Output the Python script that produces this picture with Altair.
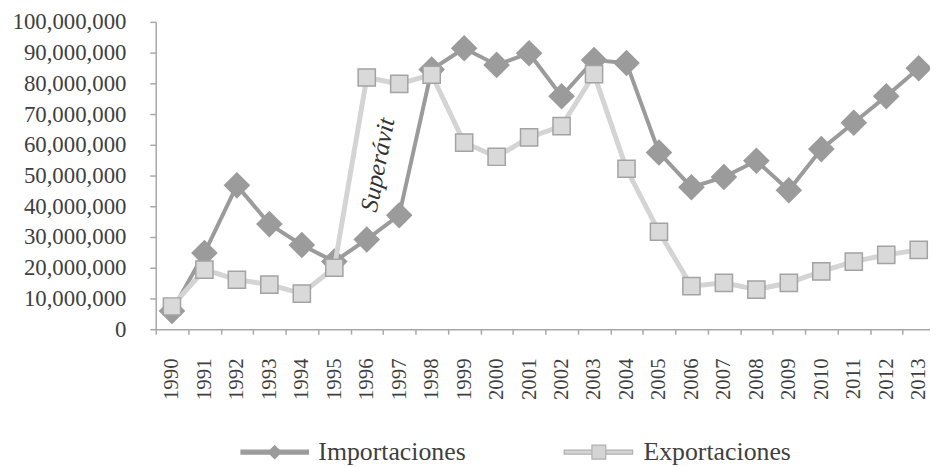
import altair as alt
import pandas as pd

years = [str(y) for y in range(1990, 2014)]
importaciones = [5.9e6, 24.8e6, 46.8e6, 34.2e6, 27.4e6, 22.0e6, 29.2e6, 37.1e6, 84.5e6, 91.4e6,
                 86.0e6, 89.8e6, 75.8e6, 87.6e6, 86.6e6, 57.5e6, 46.2e6, 49.5e6, 54.8e6, 45.2e6,
                 58.6e6, 67.2e6, 75.8e6, 84.9e6]
exportaciones = [7.4e6, 19.4e6, 16.1e6, 14.5e6, 11.6e6, 20.0e6, 81.9e6, 79.8e6, 82.8e6, 60.7e6,
                 56.1e6, 62.4e6, 66.1e6, 83.0e6, 52.2e6, 31.7e6, 14.0e6, 15.1e6, 12.9e6, 15.1e6,
                 18.8e6, 22.0e6, 24.2e6, 25.8e6]
series = ["Importaciones", "Exportaciones"]
y_ticks = [i * 10_000_000 for i in range(11)]
annotation = {"year": ["1996"], "value": [53.5e6], "text": ["Superávit"]}

FONT = "Liberation Serif"
TXT = "#3f3f3f"
AX = "#a8a8a8"
IMP_C = "#9b9b9b"
EXP_LINE = "#d4d4d4"
EXP_FILL = "#d9d9d9"
EXP_STROKE = "#a3a3a3"

imp_df = pd.DataFrame({"year": years, "value": importaciones})
exp_df = pd.DataFrame({"year": years, "value": exportaciones})
ann_df = pd.DataFrame(annotation)
leg_df = pd.DataFrame({"serie": series})

x_scale = alt.Scale(type="band", paddingInner=0, paddingOuter=0, range=[0, 786])
y_scale = alt.Scale(domain=[0, 100_000_000], nice=False)

x_axis = alt.Axis(title=None, tickBand="extent", labelAngle=270, labelAlign="right",
                  labelBaseline="middle", labelFont=FONT, labelFontSize=21, labelColor=TXT,
                  labelPadding=24, tickSize=5, tickColor=AX, domainColor=AX,
                  domainWidth=1.5, tickWidth=1.5, labelOverlap=False)
y_axis = alt.Axis(title=None, values=y_ticks, format=",d", labelFont=FONT, labelFontSize=23,
                  labelColor=TXT, labelPadding=24, tickSize=6, tickColor=AX, domainColor=AX,
                  domainWidth=1.5, tickWidth=1.5, grid=False)


def xenc(bp=0.5):
    return alt.X("year:O", scale=x_scale, bandPosition=bp, axis=x_axis)


def yenc():
    return alt.Y("value:Q", scale=y_scale, axis=y_axis)


imp_line = alt.Chart(imp_df).mark_line(color=IMP_C, strokeWidth=4).encode(x=xenc(), y=yenc())
imp_pts = alt.Chart(imp_df).mark_point(shape="diamond", filled=True, size=720,
                                        color=IMP_C, opacity=1).encode(x=xenc(), y=yenc())
exp_line = alt.Chart(exp_df).mark_line(color=EXP_LINE, strokeWidth=5).encode(x=xenc(), y=yenc())
exp_pts = alt.Chart(exp_df).mark_point(shape="square", filled=True, size=300, fill=EXP_FILL,
                                        stroke=EXP_STROKE, strokeWidth=1.5, opacity=1).encode(
    x=xenc(), y=yenc())
ann = alt.Chart(ann_df).mark_text(angle=281, font=FONT, fontStyle="italic", fontSize=25,
                                  color="#333333", align="center", baseline="middle").encode(
    x=xenc(bp=0.84), y=yenc(), text="text:N")

imp_path = ("M-3.3,-0.2 L3.5,-0.2 L3.5,0.2 L-3.3,0.2 Z "
            "M0.1,-0.65 L0.75,0 L0.1,0.65 L-0.55,0 Z")
exp_path = ("M-3.5,-0.2 L-0.7,-0.2 L-0.7,0.2 L-3.5,0.2 Z "
            "M0.7,-0.2 L3.4,-0.2 L3.4,0.2 L0.7,0.2 Z "
            "M-0.7,-0.7 L0.7,-0.7 L0.7,0.7 L-0.7,0.7 Z")

legend = alt.Legend(title=None, orient="none", legendX=106, legendY=421, direction="horizontal",
                    labelFont=FONT, labelFontSize=26, labelColor=TXT, labelOffset=32,
                    columnPadding=96, symbolSize=400, symbolOpacity=1, symbolStrokeWidth=1.2,
                    padding=0)
leg_layer = alt.Chart(leg_df).mark_point(filled=True, opacity=0, size=400, strokeWidth=1.2).encode(
    shape=alt.Shape("serie:N", scale=alt.Scale(domain=series, range=[imp_path, exp_path]),
                    legend=legend),
    fill=alt.Fill("serie:N", scale=alt.Scale(domain=series, range=[IMP_C, EXP_LINE]),
                  legend=legend),
    stroke=alt.Stroke("serie:N", scale=alt.Scale(domain=series, range=[IMP_C, "#b0b0b0"]),
                      legend=legend),
)

chart = alt.layer(imp_line, imp_pts, exp_line, exp_pts, ann, leg_layer).properties(
    width=781, height=310,
    padding={"left": 149, "top": 12, "right": 0, "bottom": 137},
    autosize=alt.AutoSizeParams(type="none"),
    background="white",
).configure_view(stroke=None)

chart.save("out.html", embed_options={"renderer": "svg", "actions": False})
